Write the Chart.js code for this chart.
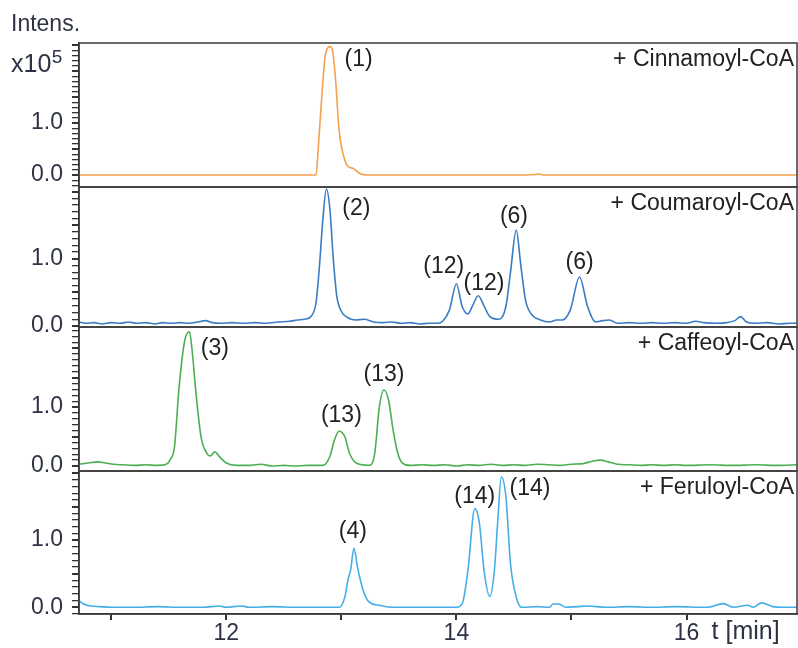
<!DOCTYPE html>
<html><head><meta charset="utf-8">
<script src="https://cdn.jsdelivr.net/npm/chart.js@4/dist/chart.umd.min.js"></script>
<style>html,body{margin:0;padding:0;background:#fff}#c{display:block}</style>
</head><body>
<canvas id="c" width="798" height="648"></canvas>
<script>
// ---- data (retention time in min, intensity in x10^5) ----
const cinnTime = [10.72,11.0,11.5,12.0,12.5,12.70,12.78,12.80,12.83,12.86,12.88,12.90,12.92,12.95,12.98,13.03,13.06,13.10,13.16,13.22,13.5,14.0,14.5,14.68,14.72,14.76,15.0,15.5,16.0,16.5,16.96];
const cinnInt  = [0,0,0,0,0,0,0,0.54,1.51,2.30,2.44,2.47,2.43,1.83,0.87,0.29,0.16,0.13,0.03,0.0,0,0,0,0.01,0.02,0.0,0,0,0,0,0];

const coumTime = [10.72,10.78,10.85,10.92,11.0,11.08,11.15,11.22,11.30,11.38,11.45,11.52,11.60,11.68,11.75,11.82,11.88,11.95,12.05,12.15,12.25,12.35,12.45,12.55,12.62,12.68,12.74,12.78,12.81,12.84,12.87,12.90,12.93,12.96,13.00,13.05,13.12,13.20,13.28,13.36,13.44,13.52,13.60,13.68,13.76,13.84,13.88,13.94,14.00,14.05,14.10,14.14,14.19,14.24,14.29,14.37,14.43,14.47,14.52,14.56,14.60,14.66,14.73,14.81,14.87,14.92,14.99,15.07,15.14,15.21,15.27,15.33,15.40,15.50,15.60,15.70,15.80,15.90,16.0,16.08,16.15,16.25,16.35,16.42,16.47,16.52,16.60,16.70,16.80,16.90,16.96];
const coumInt  = [0.06,0.04,0.05,0.03,0.05,0.04,0.06,0.04,0.05,0.03,0.05,0.04,0.05,0.04,0.06,0.08,0.05,0.04,0.05,0.04,0.05,0.04,0.06,0.07,0.09,0.10,0.15,0.35,0.9,1.6,2.04,1.75,1.0,0.45,0.22,0.13,0.09,0.10,0.06,0.05,0.06,0.04,0.05,0.03,0.04,0.04,0.07,0.24,0.63,0.29,0.18,0.30,0.45,0.30,0.14,0.10,0.29,0.8,1.43,0.9,0.39,0.16,0.09,0.06,0.09,0.09,0.24,0.73,0.29,0.06,0.08,0.09,0.04,0.05,0.04,0.05,0.04,0.05,0.04,0.07,0.05,0.04,0.05,0.08,0.14,0.06,0.04,0.05,0.03,0.04,0.04];

const caffTime = [10.72,10.80,10.88,10.95,11.02,11.10,11.20,11.30,11.40,11.48,11.51,11.55,11.59,11.64,11.68,11.70,11.74,11.78,11.83,11.86,11.90,11.94,12.0,12.09,12.2,12.3,12.4,12.5,12.6,12.7,12.84,12.90,12.94,12.98,13.03,13.07,13.13,13.24,13.29,13.33,13.37,13.41,13.45,13.49,13.53,13.60,13.70,13.80,13.90,14.0,14.1,14.2,14.3,14.4,14.5,14.6,14.7,14.8,14.9,15.0,15.1,15.18,15.25,15.32,15.4,15.5,15.6,15.7,15.8,15.9,16.0,16.2,16.4,16.6,16.8,16.96];
const caffInt  = [0.03,0.05,0.07,0.05,0.03,0.02,0.01,0.02,0.01,0.03,0.1,0.33,1.34,2.14,2.28,2.02,1.17,0.5,0.22,0.17,0.24,0.16,0.05,0.01,0.01,0.03,0.0,0.01,0.0,0.01,0.01,0.16,0.44,0.59,0.5,0.22,0.05,0.01,0.21,1.0,1.29,1.12,0.61,0.22,0.05,0.01,0.02,0.01,0.02,0.0,0.02,0.01,0.03,0.01,0.02,0.01,0.03,0.02,0.01,0.03,0.04,0.08,0.1,0.07,0.03,0.02,0.01,0.02,0.01,0.02,0.01,0.02,0.01,0.02,0.01,0.02];

const ferTime = [10.72,10.76,10.82,10.9,11.0,11.2,11.4,11.6,11.8,11.94,12.0,12.13,12.2,12.4,12.6,12.8,12.98,13.03,13.06,13.08,13.11,13.14,13.19,13.24,13.33,13.45,13.6,13.8,14.0,14.05,14.10,14.16,14.20,14.24,14.29,14.33,14.36,14.39,14.43,14.47,14.52,14.57,14.7,14.81,14.84,14.89,14.95,15.05,15.14,15.3,15.5,15.7,15.9,16.18,16.32,16.41,16.53,16.58,16.65,16.75,16.83,16.96];
const ferInt  = [0.1,0.05,0.02,0.01,0.0,0.0,0.01,0.0,0.0,0.02,0.0,0.02,0.0,0.01,0.0,0.0,0.0,0.15,0.43,0.55,0.88,0.6,0.25,0.08,0.03,0.0,0.0,0.0,0.0,0.05,0.55,1.47,1.25,0.55,0.16,0.55,1.3,1.94,1.65,0.65,0.15,0.0,0.01,0.0,0.05,0.05,0.0,0.01,0.02,0.0,0.01,0.0,0.01,0.0,0.055,0.0,0.03,0.0,0.065,0.01,0.0,0.0];

const seriesNames = ['+ Cinnamoyl-CoA','+ Coumaroyl-CoA','+ Caffeoyl-CoA','+ Feruloyl-CoA'];
const seriesColors = ['#f5a04c','#3b7cc4','#4caf52','#45aee6'];

// peak labels
const peakText  = ['(1)','(2)','(12)','(12)','(6)','(6)','(3)','(13)','(13)','(4)','(14)','(14)'];
const peakPanel = [0,1,1,1,1,1,2,2,2,3,3,3];
const peakTime  = [13.15,13.13,13.89,14.24,14.50,15.07,11.90,13.00,13.37,13.10,14.16,14.64];
const peakLevel = [2.21,1.75,0.88,0.63,1.63,0.94,1.99,0.85,1.55,1.12,1.65,1.77];

// axes
const xTickValues = [11,12,13,14,15,16];
const xTickLabels = ['','12','','14','','16'];
const yLabelValues = [0,1];
const yLabelText = ['0.0','1.0'];
const panelMin = [-0.23,-0.015,-0.085,-0.10];
const panelMax = [2.54,2.07,2.36,2.03];
const panelWeight = [144,140,144,143];

// ---- build ----
const FONT = '"Liberation Sans", Arial, sans-serif';
const ids = ['y1','y2','y3','y4'];
const times = [cinnTime, coumTime, caffTime, ferTime];
const ints = [cinnInt, coumInt, caffInt, ferInt];

const datasets = ids.map((id,i)=>({
  label: seriesNames[i],
  data: times[i].map((t,k)=>({x:t, y:ints[i][k]})),
  xAxisID:'x', yAxisID:id,
  showLine:true, pointRadius:0, borderWidth:1.6,
  borderColor:seriesColors[i], backgroundColor:seriesColors[i],
  cubicInterpolationMode:'monotone', fill:false
}));

function yScale(i){
  const lo = Math.ceil(panelMin[i]*10-1e-9), hi = Math.floor(panelMax[i]*10+1e-9);
  const vals = [];
  for(let k=lo;k<=hi;k++) vals.push(k/10);
  return {
    type:'linear', position:'left', stack:'panels', stackWeight:panelWeight[i], weight:4-i,
    min:panelMin[i], max:panelMax[i], offset:false,
    afterBuildTicks: ax => { ax.ticks = vals.map(v=>({value:v})); },
    afterFit: ax => { ax.width = 79; },
    grid:{drawOnChartArea:false, drawTicks:true, tickLength:7, color:'#333',
      lineWidth: c => (Math.abs(c.tick.value*2 - Math.round(c.tick.value*2))<1e-6 ? 2 : 1.3)},
    border:{display:true, color:'#333', width:1.5},
    ticks:{autoSkip:false, padding:9, color:'#2e3245', font:{family:FONT, size:23},
      callback: v => { const j = yLabelValues.findIndex(a=>Math.abs(a-v)<1e-6); return j>=0 ? yLabelText[j] : ''; }}
  };
}

const scales = {
  x:{type:'linear', position:'bottom', min:10.72, max:16.96,
    afterBuildTicks: ax => { ax.ticks = xTickValues.map(v=>({value:v})); },
    afterFit: ax => { ax.height = 34; },
    grid:{drawOnChartArea:false, drawTicks:true, tickLength:6, color:'#333', lineWidth:2},
    border:{display:true, color:'#333', width:1.5},
    ticks:{autoSkip:false, maxRotation:0, padding:0, color:'#2e3245', font:{family:FONT, size:23},
      callback: v => { const j = xTickValues.indexOf(v); return j>=0 ? xTickLabels[j] : ''; }}
  }
};
ids.forEach((id,i)=>{ scales[id] = yScale(i); });

const annot = {
  id:'annot',
  afterDraw(chart){
    const ctx = chart.ctx, area = chart.chartArea, xs = chart.scales.x;
    ctx.save();
    // panel frames
    ctx.strokeStyle = '#3a3a3a'; ctx.lineWidth = 1.5;
    ids.forEach(id => { const s = chart.scales[id]; ctx.strokeRect(area.left, s.top, area.right-area.left, s.bottom-s.top); });
    // panel titles
    ctx.fillStyle = '#222'; ctx.font = '23px '+FONT; ctx.textAlign='right'; ctx.textBaseline='middle';
    ids.forEach((id,i) => { const s = chart.scales[id]; ctx.fillText(seriesNames[i], area.right-3, s.top+17); });
    // peak labels
    ctx.textAlign='center';
    peakText.forEach((t,i) => {
      const s = chart.scales[ids[peakPanel[i]]];
      ctx.fillText(t, xs.getPixelForValue(peakTime[i]), s.getPixelForValue(peakLevel[i]));
    });
    // axis titles
    ctx.fillStyle = '#2e3245';
    ctx.textAlign='left'; ctx.textBaseline='alphabetic';
    ctx.font = '23px '+FONT;
    ctx.fillText('Intens.', 11, 31);
    const y1 = chart.scales.y1;
    const yb = y1.getPixelForValue(2.0) + 1;
    ctx.font = '25px '+FONT;
    ctx.fillText('x10', 11, yb);
    const w = ctx.measureText('x10').width;
    ctx.font = '19px '+FONT;
    ctx.fillText('5', 11 + w + 0.5, yb-9);
    ctx.font = '25px '+FONT; ctx.textBaseline='top';
    ctx.fillText('t [min]', xs.getPixelForValue(16)+25, area.bottom+6);
    ctx.restore();
  }
};

new Chart(document.getElementById('c'), {
  type:'scatter',
  data:{datasets},
  options:{
    responsive:false, animation:false, devicePixelRatio:1,
    layout:{padding:{top:43, right:1, left:0, bottom:0}},
    plugins:{legend:{display:false}, tooltip:{enabled:false}, title:{display:false}},
    scales
  },
  plugins:[annot]
});
</script>
</body></html>
